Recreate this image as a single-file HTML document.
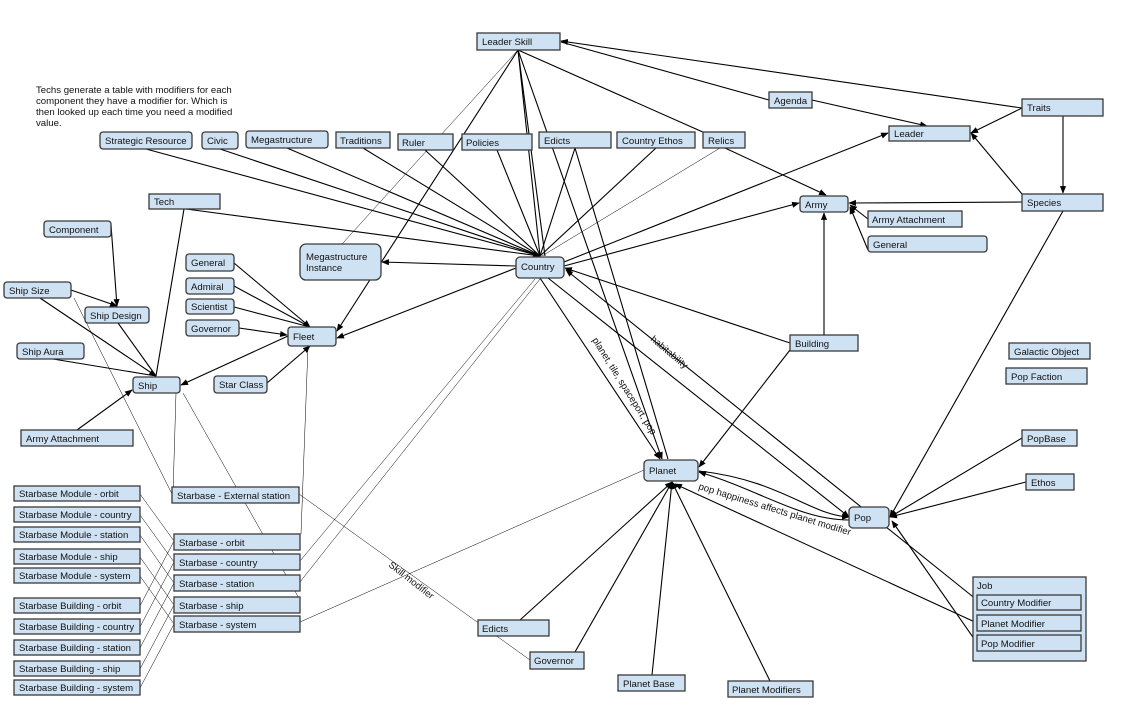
<!DOCTYPE html>
<html><head><meta charset="utf-8"><style>
body{margin:0;background:#fff;}
svg{display:block;font-family:"Liberation Sans",Arial,sans-serif;}
.b{fill:#cfe2f3;stroke:#3a3a3a;stroke-width:1.3;}
.t{font-size:9.6px;fill:#111;}
.l{stroke:#000;stroke-width:1.1;fill:none;}
.n{stroke:#000;stroke-width:0.5;fill:none;}
</style></head><body>
<svg width="1137" height="709" viewBox="0 0 1137 709" xmlns="http://www.w3.org/2000/svg">
<defs><marker id="a" viewBox="0 0 10 10" refX="9" refY="5" markerWidth="7" markerHeight="7" orient="auto"><path d="M0,1 L10,5 L0,9 z" fill="#000"/></marker></defs>

<g class="l">
<line x1="146" y1="149" x2="540" y2="256" marker-end="url(#a)"/>
<line x1="220" y1="149" x2="540" y2="256"/>
<line x1="287" y1="148" x2="540" y2="256"/>
<line x1="363" y1="148" x2="540" y2="256"/>
<line x1="425" y1="150" x2="540" y2="256"/>
<line x1="497" y1="150" x2="540" y2="256"/>
<line x1="575" y1="148" x2="540" y2="256"/>
<line x1="656" y1="148" x2="540" y2="256"/>
<line x1="186" y1="209" x2="540" y2="256"/>
<line x1="518" y1="50" x2="540" y2="256"/>
<line x1="518" y1="50" x2="545" y2="256"/>
<line x1="518" y1="50" x2="337" y2="331" marker-end="url(#a)"/>
<line x1="518" y1="50" x2="662" y2="459" marker-end="url(#a)"/>
<line x1="518" y1="50" x2="705" y2="133"/>
<line x1="725" y1="148" x2="826" y2="195" marker-end="url(#a)"/>
<line x1="575" y1="148" x2="668" y2="459"/>
<line x1="516" y1="266" x2="382" y2="262" marker-end="url(#a)"/>
<line x1="516" y1="268" x2="337" y2="338" marker-end="url(#a)"/>
<line x1="564" y1="262" x2="888" y2="133" marker-end="url(#a)"/>
<line x1="564" y1="266" x2="799" y2="203" marker-end="url(#a)"/>
<line x1="790" y1="343" x2="565" y2="268" marker-end="url(#a)"/>
<line x1="540" y1="278" x2="660" y2="459" marker-end="url(#a)"/>
<line x1="548" y1="278" x2="849" y2="517" marker-end="url(#a)"/>
<line x1="977" y1="600" x2="566" y2="270" marker-end="url(#a)"/>
<line x1="824" y1="335" x2="824" y2="213" marker-end="url(#a)"/>
<line x1="790" y1="350" x2="699" y2="467" marker-end="url(#a)"/>
<line x1="1022" y1="202" x2="849" y2="203" marker-end="url(#a)"/>
<line x1="1022" y1="194" x2="971" y2="133" marker-end="url(#a)"/>
<line x1="1022" y1="108" x2="971" y2="133" marker-end="url(#a)"/>
<line x1="1063" y1="116" x2="1063" y2="193" marker-end="url(#a)"/>
<line x1="1022" y1="108" x2="561" y2="41" marker-end="url(#a)"/>
<line x1="769" y1="100" x2="561" y2="42"/>
<line x1="812" y1="100" x2="927" y2="126" marker-end="url(#a)"/>
<line x1="868" y1="219" x2="850" y2="205" marker-end="url(#a)"/>
<line x1="868" y1="250" x2="850" y2="207" marker-end="url(#a)"/>
<line x1="1063" y1="211" x2="890" y2="517" marker-end="url(#a)"/>
<line x1="1022" y1="438" x2="890" y2="517" marker-end="url(#a)"/>
<line x1="1026" y1="482" x2="890" y2="517" marker-end="url(#a)"/>
<line x1="977" y1="623" x2="675" y2="484" marker-end="url(#a)"/>
<line x1="977" y1="643" x2="892" y2="521" marker-end="url(#a)"/>
<path d="M699 471 C780 480 810 515 849 517" marker-end="url(#a)"/>
<path d="M849 520 C800 520 760 490 699 472" marker-end="url(#a)"/>
<line x1="520" y1="620" x2="672" y2="482" marker-end="url(#a)"/>
<line x1="575" y1="652" x2="672" y2="482" marker-end="url(#a)"/>
<line x1="652" y1="675" x2="672" y2="482" marker-end="url(#a)"/>
<line x1="770" y1="681" x2="672" y2="482" marker-end="url(#a)"/>
<line x1="288" y1="336" x2="181" y2="385" marker-end="url(#a)"/>
<line x1="267" y1="383" x2="310" y2="346" marker-end="url(#a)"/>
<line x1="234" y1="263" x2="310" y2="327" marker-end="url(#a)"/>
<line x1="234" y1="286" x2="310" y2="327"/>
<line x1="234" y1="307" x2="310" y2="327"/>
<line x1="239" y1="328" x2="287" y2="335" marker-end="url(#a)"/>
<line x1="71" y1="290" x2="117" y2="306" marker-end="url(#a)"/>
<line x1="111" y1="225" x2="117" y2="306" marker-end="url(#a)"/>
<line x1="40" y1="298" x2="156" y2="376" marker-end="url(#a)"/>
<line x1="118" y1="323" x2="156" y2="376"/>
<line x1="53" y1="359" x2="156" y2="376"/>
<line x1="184" y1="209" x2="156" y2="376"/>
<line x1="77" y1="430" x2="132" y2="390" marker-end="url(#a)"/>
</g>
<g class="n">
<line x1="518" y1="50" x2="342" y2="244"/>
<line x1="720" y1="148" x2="542" y2="256"/>
<line x1="74" y1="298" x2="172" y2="494"/>
<line x1="176" y1="393" x2="173" y2="494"/>
<line x1="183" y1="393" x2="300" y2="600"/>
<line x1="308" y1="346" x2="301" y2="534"/>
<line x1="535" y1="279" x2="300" y2="561"/>
<line x1="540" y1="279" x2="300" y2="582"/>
<line x1="300" y1="622" x2="644" y2="470"/>
<line x1="299" y1="494" x2="530" y2="660"/>
<line x1="140" y1="494" x2="174" y2="541"/><line x1="140" y1="515" x2="174" y2="562"/><line x1="140" y1="535" x2="174" y2="583"/><line x1="140" y1="557" x2="174" y2="605"/><line x1="140" y1="576" x2="174" y2="624"/>
<line x1="140" y1="606" x2="174" y2="541"/><line x1="140" y1="627" x2="174" y2="562"/><line x1="140" y1="648" x2="174" y2="583"/><line x1="140" y1="669" x2="174" y2="605"/><line x1="140" y1="688" x2="174" y2="624"/>
</g>

<text class="t" transform="translate(592,340) rotate(58)">planet, tile, spaceport, pop</text>
<text class="t" transform="translate(650,340) rotate(40)">habitability</text>
<text class="t" transform="translate(698,489) rotate(17)">pop happiness affects planet modifier</text>
<text class="t" transform="translate(388,566) rotate(38)">Skill modifier</text>

<text class="t" x="36" y="93">Techs generate a table with modifiers for each</text>
<text class="t" x="36" y="104">component they have a modifier for. Which is</text>
<text class="t" x="36" y="115">then looked up each time you need a modified</text>
<text class="t" x="36" y="126">value.</text>

<rect class="b" x="973" y="577" width="113" height="84"/>
<text class="t" x="977" y="589">Job</text>
<g>
<rect class="b" x="477" y="33" width="83" height="17"/><text class="t" x="482" y="45">Leader Skill</text>
<rect class="b" x="769" y="92" width="43" height="16"/><text class="t" x="774" y="104">Agenda</text>
<rect class="b" x="1022" y="99" width="81" height="17"/><text class="t" x="1027" y="111">Traits</text>
<rect class="b" x="889" y="126" width="81" height="15"/><text class="t" x="894" y="137">Leader</text>
<rect class="b" x="100" y="132" width="92" height="17" rx="3"/><text class="t" x="105" y="144">Strategic Resource</text>
<rect class="b" x="202" y="132" width="36" height="17" rx="3"/><text class="t" x="207" y="144">Civic</text>
<rect class="b" x="246" y="131" width="82" height="17" rx="3"/><text class="t" x="251" y="143">Megastructure</text>
<rect class="b" x="336" y="132" width="54" height="16"/><text class="t" x="340" y="144">Traditions</text>
<rect class="b" x="398" y="134" width="55" height="16"/><text class="t" x="402" y="146">Ruler</text>
<rect class="b" x="462" y="134" width="70" height="16"/><text class="t" x="466" y="146">Policies</text>
<rect class="b" x="539" y="132" width="72" height="16"/><text class="t" x="544" y="144">Edicts</text>
<rect class="b" x="617" y="132" width="78" height="16"/><text class="t" x="622" y="144">Country Ethos</text>
<rect class="b" x="703" y="132" width="42" height="16"/><text class="t" x="708" y="144">Relics</text>
<rect class="b" x="149" y="194" width="71" height="15"/><text class="t" x="154" y="205">Tech</text>
<rect class="b" x="44" y="221" width="67" height="16" rx="3"/><text class="t" x="49" y="233">Component</text>
<rect class="b" x="800" y="196" width="48" height="16" rx="3"/><text class="t" x="805" y="208">Army</text>
<rect class="b" x="868" y="211" width="94" height="16"/><text class="t" x="872" y="223">Army Attachment</text>
<rect class="b" x="868" y="236" width="119" height="16" rx="3"/><text class="t" x="873" y="248">General</text>
<rect class="b" x="1022" y="194" width="81" height="17"/><text class="t" x="1027" y="206">Species</text>
<rect class="b" x="300" y="244" width="81" height="36" rx="6"/><text class="t" x="306" y="260">Megastructure</text><text class="t" x="306" y="271">Instance</text>
<rect class="b" x="516" y="257" width="48" height="21" rx="4"/><text class="t" x="521" y="270">Country</text>
<rect class="b" x="186" y="254" width="48" height="17" rx="3"/><text class="t" x="191" y="266">General</text>
<rect class="b" x="186" y="278" width="48" height="16" rx="3"/><text class="t" x="191" y="290">Admiral</text>
<rect class="b" x="186" y="299" width="48" height="15" rx="3"/><text class="t" x="191" y="310">Scientist</text>
<rect class="b" x="186" y="320" width="53" height="16" rx="3"/><text class="t" x="191" y="332">Governor</text>
<rect class="b" x="4" y="282" width="67" height="16" rx="3"/><text class="t" x="9" y="294">Ship Size</text>
<rect class="b" x="85" y="307" width="64" height="16" rx="3"/><text class="t" x="90" y="319">Ship Design</text>
<rect class="b" x="288" y="327" width="48" height="19" rx="3"/><text class="t" x="293" y="340">Fleet</text>
<rect class="b" x="17" y="343" width="67" height="16" rx="3"/><text class="t" x="22" y="355">Ship Aura</text>
<rect class="b" x="133" y="377" width="47" height="16" rx="3"/><text class="t" x="138" y="389">Ship</text>
<rect class="b" x="214" y="376" width="53" height="17" rx="3"/><text class="t" x="219" y="388">Star Class</text>
<rect class="b" x="21" y="430" width="112" height="16"/><text class="t" x="26" y="442">Army Attachment</text>
<rect class="b" x="790" y="335" width="68" height="16"/><text class="t" x="795" y="347">Building</text>
<rect class="b" x="1009" y="343" width="81" height="16"/><text class="t" x="1014" y="355">Galactic Object</text>
<rect class="b" x="1006" y="368" width="81" height="16"/><text class="t" x="1011" y="380">Pop Faction</text>
<rect class="b" x="1022" y="430" width="55" height="16"/><text class="t" x="1027" y="442">PopBase</text>
<rect class="b" x="1026" y="474" width="48" height="16"/><text class="t" x="1031" y="486">Ethos</text>
<rect class="b" x="644" y="460" width="54" height="21" rx="4"/><text class="t" x="649" y="474">Planet</text>
<rect class="b" x="849" y="507" width="40" height="21" rx="4"/><text class="t" x="854" y="521">Pop</text>
<rect class="b" x="977" y="595" width="104" height="15"/><text class="t" x="981" y="606">Country Modifier</text>
<rect class="b" x="977" y="615" width="104" height="16"/><text class="t" x="981" y="627">Planet Modifier</text>
<rect class="b" x="977" y="635" width="104" height="16"/><text class="t" x="981" y="647">Pop Modifier</text>
<rect class="b" x="478" y="620" width="71" height="16"/><text class="t" x="482" y="632">Edicts</text>
<rect class="b" x="530" y="652" width="54" height="17"/><text class="t" x="534" y="664">Governor</text>
<rect class="b" x="618" y="675" width="67" height="16"/><text class="t" x="623" y="687">Planet Base</text>
<rect class="b" x="728" y="681" width="85" height="16"/><text class="t" x="732" y="693">Planet Modifiers</text>

<rect class="b" x="14" y="486" width="126" height="15"/><text class="t" x="19" y="497">Starbase Module - orbit</text>
<rect class="b" x="14" y="507" width="126" height="15"/><text class="t" x="19" y="518">Starbase Module - country</text>
<rect class="b" x="14" y="527" width="126" height="15"/><text class="t" x="19" y="538">Starbase Module - station</text>
<rect class="b" x="14" y="549" width="126" height="15"/><text class="t" x="19" y="560">Starbase Module - ship</text>
<rect class="b" x="14" y="568" width="126" height="15"/><text class="t" x="19" y="579">Starbase Module - system</text>
<rect class="b" x="14" y="598" width="126" height="15"/><text class="t" x="19" y="609">Starbase Building - orbit</text>
<rect class="b" x="14" y="619" width="126" height="15"/><text class="t" x="19" y="630">Starbase Building - country</text>
<rect class="b" x="14" y="640" width="126" height="15"/><text class="t" x="19" y="651">Starbase Building - station</text>
<rect class="b" x="14" y="661" width="126" height="15"/><text class="t" x="19" y="672">Starbase Building - ship</text>
<rect class="b" x="14" y="680" width="126" height="15"/><text class="t" x="19" y="691">Starbase Building - system</text>

<rect class="b" x="172" y="487" width="127" height="16"/><text class="t" x="177" y="499">Starbase - External station</text>
<rect class="b" x="174" y="534" width="126" height="16"/><text class="t" x="179" y="546">Starbase - orbit</text>
<rect class="b" x="174" y="554" width="126" height="16"/><text class="t" x="179" y="566">Starbase - country</text>
<rect class="b" x="174" y="575" width="126" height="16"/><text class="t" x="179" y="587">Starbase - station</text>
<rect class="b" x="174" y="597" width="126" height="16"/><text class="t" x="179" y="609">Starbase - ship</text>
<rect class="b" x="174" y="616" width="126" height="16"/><text class="t" x="179" y="628">Starbase - system</text>
</g>
</svg>
</body></html>
